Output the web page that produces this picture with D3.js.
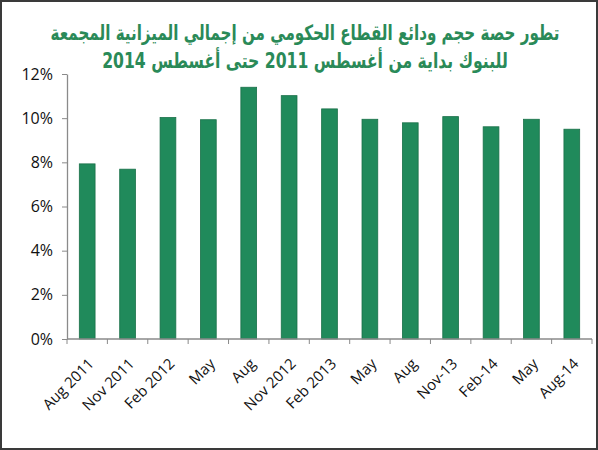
<!DOCTYPE html>
<html>
<head>
<meta charset="utf-8">
<script src="https://cdn.jsdelivr.net/npm/d3@7"></script>
<style>
  html, body { margin: 0; padding: 0; background: #fff; }
  svg { display: block; }
</style>
</head>
<body>
<div id="chartContainer"></div>
<script>
// Categories and values
const categories = ["Aug 2011", "Nov 2011", "Feb 2012", "May", "Aug", "Nov 2012", "Feb 2013",
                    "May ", "Aug ", "Nov-13", "Feb-14", "May  ", "Aug-14"];
const shares = [7.93, 7.69, 10.03, 9.93, 11.40, 11.02, 10.42, 9.95, 9.79, 10.07, 9.61, 9.95, 9.50];
const yTicks = [0, 2, 4, 6, 8, 10, 12];
const titleLines = [
  "تطور حصة حجم  ودائع القطاع الحكومي من إجمالي الميزانية المجمعة",
  "للبنوك بداية من أغسطس  2011 حتى أغسطس  2014"
];
const titleWidths = [509, 406];

// Chart dimensions and margins
const width = 598;
const height = 450;
const marginTop = 74;
const marginRight = 6;
const marginBottom = 111;
const marginLeft = 67;

const x = d3.scaleBand()
    .domain(categories)
    .range([marginLeft, width - marginRight])
    .paddingInner(0.61)
    .paddingOuter(0.305);

const y = d3.scaleLinear()
    .domain([0, 12])
    .range([height - marginBottom, marginTop]);

const svg = d3.create("svg")
    .attr("width", width)
    .attr("height", height)
    .attr("viewBox", [0, 0, width, height]);

document.getElementById('chartContainer').appendChild(svg.node());

// Frame around the picture
svg.append("rect")
    .attr("x", 1)
    .attr("y", 1)
    .attr("width", width - 2)
    .attr("height", height - 2)
    .attr("fill", "#fff")
    .attr("stroke", "#3a3a3a")
    .attr("stroke-width", 2);

// Title, squeezed horizontally to fit the width it has in the picture
const titleX = 305;
svg.append("g")
    .selectAll("text")
    .data(titleLines)
    .join("text")
    .attr("x", 0)
    .attr("y", 0)
    .attr("text-anchor", "middle")
    .attr("direction", "rtl")
    .attr("font-family", "'DejaVu Sans', sans-serif")
    .attr("font-weight", "bold")
    .attr("font-size", 21)
    .attr("fill", "#2a8a58")
    .text(d => d)
    .attr("transform", function(d, i) {
        const w = this.getComputedTextLength();
        const k = Math.min(1, titleWidths[i] / w);
        return `translate(${titleX},${40 + i * 28}) scale(${k},1)`;
    });

// Bars
svg.append("g")
    .selectAll("rect")
    .data(shares)
    .join("rect")
    .attr("x", (d, i) => x(categories[i]))
    .attr("y", d => y(d))
    .attr("width", x.bandwidth())
    .attr("height", d => y(0) - y(d))
    .attr("fill", "#208a5b")
    .attr("stroke", "#1a7049")
    .attr("stroke-width", 0.8);

// Y axis
const yAxis = svg.append("g")
    .attr("transform", `translate(${marginLeft},0)`)
    .call(d3.axisLeft(y).tickValues(yTicks).tickFormat(d => d + "%").tickSize(5).tickSizeOuter(0));
yAxis.select(".domain").attr("stroke", "#8a8a8a").attr("stroke-width", 1.3);
yAxis.selectAll(".tick line").attr("stroke", "#8a8a8a");
yAxis.selectAll(".tick text")
    .attr("x", -14)
    .attr("font-family", "'Open Sans', sans-serif")
    .attr("font-size", 16)
    .attr("fill", "#111");

// X axis: ticks between the bands
const xAxis = svg.append("g")
    .attr("transform", `translate(0,${height - marginBottom})`);
xAxis.append("line")
    .attr("x1", marginLeft)
    .attr("x2", width - marginRight)
    .attr("stroke", "#8a8a8a")
    .attr("stroke-width", 1.3);
xAxis.selectAll(".sep")
    .data(categories.concat(["end"]))
    .join("line")
    .attr("class", "sep")
    .attr("x1", (d, i) => i < categories.length ? x(d) - x.step() * x.paddingInner() / 2 : width - marginRight)
    .attr("x2", (d, i) => i < categories.length ? x(d) - x.step() * x.paddingInner() / 2 : width - marginRight)
    .attr("y1", 0)
    .attr("y2", 5)
    .attr("stroke", "#8a8a8a");
xAxis.selectAll("text")
    .data(categories)
    .join("text")
    .attr("transform", d => `translate(${x(d) + x.bandwidth() / 2 + 4},${22}) rotate(-45)`)
    .attr("text-anchor", "end")
    .attr("dy", "0.35em")
    .attr("font-family", "'Open Sans', sans-serif")
    .attr("font-size", 15)
    .attr("fill", "#111")
    .text(d => d.trim());
</script>
</body>
</html>
